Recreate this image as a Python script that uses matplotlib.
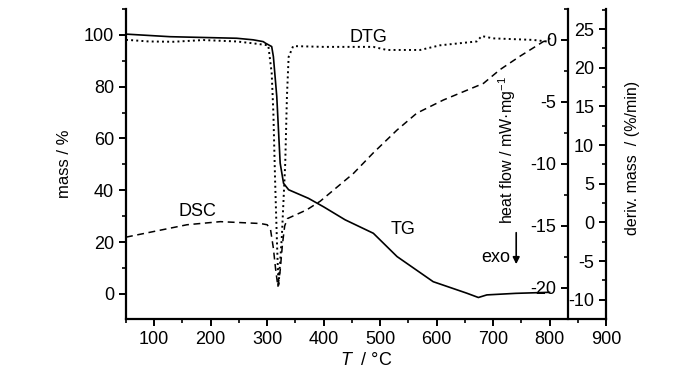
import numpy as np
import matplotlib
matplotlib.use('Agg')
import matplotlib.pyplot as plt
from matplotlib.ticker import MultipleLocator

plt.rcParams['font.family'] = ['Liberation Sans', 'DejaVu Sans']
plt.rcParams['mathtext.fontset'] = 'custom'
plt.rcParams['mathtext.rm'] = 'Liberation Sans'
plt.rcParams['mathtext.it'] = 'Liberation Sans:italic'
plt.rcParams['font.size'] = 13
plt.rcParams['axes.unicode_minus'] = False

# ---- TG (mass / %) ----
T_tg = [50, 128, 187, 246, 275, 293, 297, 308, 311, 317, 323, 329, 338, 373,
        400, 438, 488, 530, 594, 653, 674, 689, 740, 800]
mass = [100.3, 99.3, 99.0, 98.7, 98.1, 97.4, 96.8, 95.5, 91.6, 76.2, 50.5, 42.7,
        40.2, 36.9, 33.6, 28.6, 23.4, 14.4, 4.7, 0.3, -1.4, -0.4, 0.2, 0.6]

# ---- DSC (heat flow / mW mg-1) ----
T_dsc = [50, 158, 217, 288, 300, 306, 311, 315, 319, 323, 327, 331, 336, 370,
         394, 453, 488, 530, 565, 612, 683, 712, 748, 789, 800]
heat = [-15.9, -14.9, -14.65, -14.8, -14.9, -15.3, -16.8, -18.5, -19.9, -18.6,
        -16.5, -15.0, -14.4, -13.7, -13.0, -10.75, -9.1, -7.26, -5.9, -4.84,
        -3.5, -2.4, -1.3, -0.13, 0.0]

# ---- DTG (deriv. mass / (%/min)) ----
T_dtg = [50, 57, 90, 134, 187, 246, 276, 302, 308, 311, 314, 317, 320, 326, 332,
         335, 338, 346, 400, 488, 512, 571, 606, 671, 680, 700, 771, 795, 801]
dtg = [23.6, 23.58, 23.4, 23.36, 23.58, 23.4, 23.15, 22.9, 19.3, 14.1, 5.5, -1.8,
       -8.3, -1.8, 7.7, 16.3, 21.4, 22.8, 22.7, 22.7, 22.3, 22.3, 22.9, 23.4,
       24.1, 23.8, 23.6, 23.4, 23.84]

fig = plt.figure(figsize=(7, 3.73), dpi=100)
ax = fig.add_axes([0.18, 0.1448, 0.6857, 0.8311])

ax.plot(T_tg, mass, '-', color='black', lw=1.2)
ax.set_xlim(50, 900)
ax.set_ylim(-9.7, 110)
ax.xaxis.set_major_locator(MultipleLocator(100))
ax.xaxis.set_minor_locator(MultipleLocator(50))
ax.yaxis.set_major_locator(MultipleLocator(20))
ax.yaxis.set_minor_locator(MultipleLocator(10))
ax.set_xticks(range(100, 1000, 100))
ax.spines['top'].set_visible(False)
ax.spines['right'].set_visible(False)
ax.set_ylabel('mass / %', fontsize=12)
ax.yaxis.set_label_coords(-0.112, 0.5)
ax.set_xlabel('$T$  / °C', labelpad=3)

# heat flow axis, spine inside the plot at 833 C
ax2 = ax.twinx()
ax2.plot(T_dsc, heat, '--', color='black', lw=1.1, dashes=(4.5, 3))
ax2.set_ylim(-22.5, 2.5)
ax2.yaxis.set_ticks_position('left')
ax2.yaxis.set_label_position('left')
ax2.spines['left'].set_position(('data', 833))
ax2.spines['left'].set_visible(True)
for s in ['right', 'top', 'bottom']:
    ax2.spines[s].set_visible(False)
ax2.yaxis.set_major_locator(MultipleLocator(5))
ax2.yaxis.set_minor_locator(MultipleLocator(2.5))
ax2.set_ylabel('heat flow / mW·mg$^{-1}$', fontsize=11.5)
ax2.yaxis.set_label_coords(0.817, 0.545)

# deriv. mass axis at right edge, labels inside
ax3 = ax.twinx()
ax3.plot(T_dtg, dtg, ':', color='black', lw=1.4)
ax3.set_ylim(-12.5, 27.6)
ax3.yaxis.set_ticks_position('left')
ax3.yaxis.set_label_position('left')
ax3.spines['left'].set_position(('data', 900))
ax3.spines['left'].set_visible(True)
for s in ['right', 'top', 'bottom']:
    ax3.spines[s].set_visible(False)
ax3.yaxis.set_major_locator(MultipleLocator(5))
ax3.yaxis.set_minor_locator(MultipleLocator(2.5))
ax3.set_ylabel('deriv. mass  / (%/min)', fontsize=11.5)
ax3.yaxis.set_label_coords(1.07, 0.52)

for a in (ax, ax2, ax3):
    for s in a.spines.values():
        s.set_linewidth(1.6)
    a.tick_params(which='major', length=5, width=1.4, direction='out')
    a.tick_params(which='minor', length=3, width=1.2, direction='out')

# curve labels
ax.text(479, 99, 'DTG', ha='center', va='center')
ax.text(541, 24.7, 'TG', ha='center', va='center')
ax.text(176, 31.7, 'DSC', ha='center', va='center')
ax.text(731, 13.9, 'exo', ha='right', va='center')
ax.annotate('', xy=(741, 10.4), xytext=(741, 24.7),
            arrowprops=dict(arrowstyle='-|>', color='black', lw=1.2, mutation_scale=10))

fig.savefig('out.png', dpi=100)
